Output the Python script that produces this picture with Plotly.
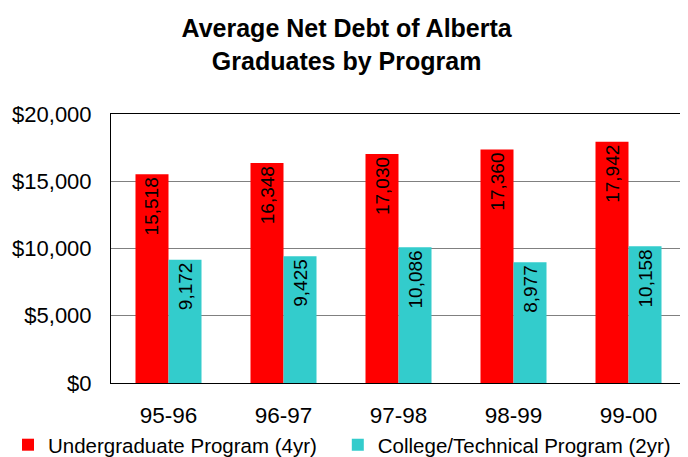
import plotly.graph_objects as go

# Data
years = ["95-96", "96-97", "97-98", "98-99", "99-00"]
undergrad = [15518, 16348, 17030, 17360, 17942]
college = [9172, 9425, 10086, 8977, 10158]
y_ticks = [0, 5000, 10000, 15000, 20000]
y_tick_labels = ["$0", "$5,000", "$10,000", "$15,000", "$20,000"]

font_family = "Liberation Sans, Arial, sans-serif"

fig = go.Figure()

fig.add_trace(go.Bar(
    x=years,
    y=undergrad,
    name="Undergraduate Program (4yr)",
    marker=dict(color="#ff0000", line=dict(width=0)),
    texttemplate="%{y:,}",
    textposition="inside",
    insidetextanchor="end",
    textangle=-90,
    textfont=dict(color="black", size=19, family=font_family),
    legend="legend",
))

fig.add_trace(go.Bar(
    x=years,
    y=college,
    name="College/Technical Program (2yr)",
    marker=dict(color="#33cccc", line=dict(width=0)),
    texttemplate="%{y:,}",
    textposition="inside",
    insidetextanchor="end",
    textangle=-90,
    textfont=dict(color="black", size=19, family=font_family),
    legend="legend2",
))

# the page body has an 8px margin, so the figure is sized to fit inside it
legend_style = dict(
    orientation="h",
    xref="container",
    yref="container",
    xanchor="left",
    y=0.027,
    yanchor="middle",
    font=dict(size=20.5, family=font_family),
    itemwidth=30,
    bgcolor="rgba(0,0,0,0)",
)

fig.update_layout(
    width=680,
    height=449,
    margin=dict(l=103, r=2, t=106, b=74, autoexpand=False),
    paper_bgcolor="white",
    plot_bgcolor="white",
    font=dict(family=font_family, color="black", size=20),
    barmode="group",
    bargap=0.426,
    bargroupgap=0,
    title=dict(
        text="<b>Average Net Debt of Alberta<br>Graduates by Program</b>",
        x=0.498,
        xanchor="center",
        y=0.935,
        yanchor="top",
        font=dict(size=25, family=font_family),
    ),
    legend=dict(x=0.0, **legend_style),
    legend2=dict(x=0.485, **legend_style),
    showlegend=True,
)

fig.update_xaxes(
    showline=True,
    linecolor="black",
    linewidth=1,
    mirror=True,
    ticks="",
    tickfont=dict(size=22.5),
    ticklabelstandoff=12,
)

fig.update_yaxes(
    range=[0, 20000],
    tickvals=y_ticks,
    ticktext=y_tick_labels,
    showgrid=True,
    gridcolor="#808080",
    gridwidth=1,
    showline=True,
    linecolor="black",
    linewidth=1,
    mirror=True,
    zeroline=False,
    ticks="",
    tickfont=dict(size=22),
    ticklabelstandoff=14,
)

fig.write_html("out.html")
